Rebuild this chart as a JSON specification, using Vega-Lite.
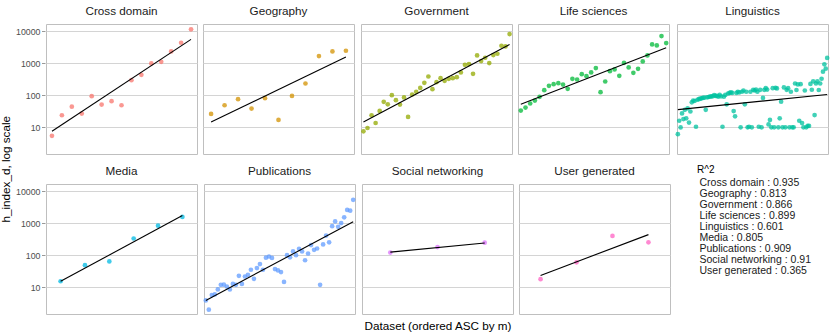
{
  "$schema": "https://vega.github.io/schema/vega-lite/v6.json",
  "padding": {"left": 0, "top": 5, "right": 5, "bottom": 2},
  "title": {"text": "h_index_d, log scale", "orient": "left", "anchor": "middle", "fontSize": 11.7, "fontWeight": "normal", "color": "#000000", "font": "Liberation Sans", "offset": 3},
  "data": {"values": [
    {"c":"Cross domain","i":1,"h":5.4},{"c":"Cross domain","i":2,"h":23.7},{"c":"Cross domain","i":3,"h":44},{"c":"Cross domain","i":4,"h":26.7},{"c":"Cross domain","i":5,"h":93},{"c":"Cross domain","i":6,"h":51},{"c":"Cross domain","i":7,"h":65},{"c":"Cross domain","i":8,"h":48.7},{"c":"Cross domain","i":9,"h":294},{"c":"Cross domain","i":10,"h":431},{"c":"Cross domain","i":11,"h":977},{"c":"Cross domain","i":12,"h":1100},{"c":"Cross domain","i":13,"h":2317},{"c":"Cross domain","i":14,"h":4315},{"c":"Cross domain","i":15,"h":11270},
    {"c":"Cross domain","i":1,"f":7.5},{"c":"Cross domain","i":15,"f":5500},
    {"c":"Geography","i":1,"h":26},{"c":"Geography","i":2,"h":48.7},{"c":"Geography","i":3,"h":75},{"c":"Geography","i":4,"h":38.3},{"c":"Geography","i":5,"h":80.6},{"c":"Geography","i":6,"h":17},{"c":"Geography","i":7,"h":95},{"c":"Geography","i":8,"h":232},{"c":"Geography","i":9,"h":1655},{"c":"Geography","i":10,"h":2317},{"c":"Geography","i":11,"h":2427},
    {"c":"Geography","i":1,"f":14.7},{"c":"Geography","i":11,"f":1540},
    {"c":"Government","i":1,"h":7.5},{"c":"Government","i":2,"h":9.5},{"c":"Government","i":3,"h":23.7},{"c":"Government","i":4,"h":13.6},{"c":"Government","i":5,"h":32.4},{"c":"Government","i":6,"h":62},{"c":"Government","i":7,"h":52},{"c":"Government","i":8,"h":100},{"c":"Government","i":9,"h":70},{"c":"Government","i":10,"h":51},{"c":"Government","i":11,"h":85},{"c":"Government","i":12,"h":21},{"c":"Government","i":13,"h":105},{"c":"Government","i":14,"h":127},{"c":"Government","i":15,"h":169},{"c":"Government","i":16,"h":243},{"c":"Government","i":17,"h":383},{"c":"Government","i":18,"h":154},{"c":"Government","i":19,"h":255},{"c":"Government","i":20,"h":340},{"c":"Government","i":21,"h":280},{"c":"Government","i":22,"h":324},{"c":"Government","i":23,"h":340},{"c":"Government","i":24,"h":365},{"c":"Government","i":25,"h":511},{"c":"Government","i":26,"h":887},{"c":"Government","i":27,"h":931},{"c":"Government","i":28,"h":464},{"c":"Government","i":29,"h":1738},{"c":"Government","i":30,"h":1155},{"c":"Government","i":31,"h":1468},{"c":"Government","i":32,"h":1000},{"c":"Government","i":33,"h":1778},{"c":"Government","i":34,"h":1957},{"c":"Government","i":35,"h":3480},{"c":"Government","i":36,"h":3320},{"c":"Government","i":37,"h":8060},
    {"c":"Government","i":1,"f":14.7},{"c":"Government","i":37,"f":3830},
    {"c":"Life sciences","i":1,"h":33.2},{"c":"Life sciences","i":2,"h":41.2},{"c":"Life sciences","i":3,"h":55},{"c":"Life sciences","i":4,"h":68},{"c":"Life sciences","i":5,"h":89},{"c":"Life sciences","i":6,"h":143},{"c":"Life sciences","i":7,"h":196},{"c":"Life sciences","i":8,"h":221},{"c":"Life sciences","i":9,"h":237},{"c":"Life sciences","i":10,"h":215},{"c":"Life sciences","i":11,"h":158},{"c":"Life sciences","i":12,"h":324},{"c":"Life sciences","i":13,"h":309},{"c":"Life sciences","i":14,"h":453},{"c":"Life sciences","i":15,"h":393},{"c":"Life sciences","i":16,"h":511},{"c":"Life sciences","i":17,"h":698},{"c":"Life sciences","i":18,"h":124},{"c":"Life sciences","i":19,"h":267},{"c":"Life sciences","i":20,"h":562},{"c":"Life sciences","i":21,"h":634},{"c":"Life sciences","i":22,"h":402},{"c":"Life sciences","i":23,"h":1023},{"c":"Life sciences","i":24,"h":733},{"c":"Life sciences","i":25,"h":499},{"c":"Life sciences","i":26,"h":665},{"c":"Life sciences","i":27,"h":1127},{"c":"Life sciences","i":28,"h":1738},{"c":"Life sciences","i":29,"h":3830},{"c":"Life sciences","i":30,"h":3565},{"c":"Life sciences","i":31,"h":6980},{"c":"Life sciences","i":32,"h":4217},
    {"c":"Life sciences","i":1,"f":52},{"c":"Life sciences","i":32,"f":3013},
    {"c":"Linguistics","i":1,"h":6.1},{"c":"Linguistics","i":2,"h":16},{"c":"Linguistics","i":3,"h":9.9},{"c":"Linguistics","i":4,"h":27},{"c":"Linguistics","i":5,"h":18},{"c":"Linguistics","i":6,"h":35},{"c":"Linguistics","i":7,"h":19},{"c":"Linguistics","i":8,"h":39},{"c":"Linguistics","i":9,"h":14},{"c":"Linguistics","i":10,"h":31},
    {"c":"Linguistics","i":11,"h":60},{"c":"Linguistics","i":12,"h":68},{"c":"Linguistics","i":13,"h":66},{"c":"Linguistics","i":14,"h":10.4},{"c":"Linguistics","i":15,"h":72},{"c":"Linguistics","i":16,"h":75},{"c":"Linguistics","i":17,"h":78},{"c":"Linguistics","i":18,"h":80},{"c":"Linguistics","i":19,"h":82},{"c":"Linguistics","i":20,"h":84},
    {"c":"Linguistics","i":21,"h":35},{"c":"Linguistics","i":22,"h":86},{"c":"Linguistics","i":23,"h":88},{"c":"Linguistics","i":24,"h":90},{"c":"Linguistics","i":25,"h":92},{"c":"Linguistics","i":26,"h":92},{"c":"Linguistics","i":27,"h":100},{"c":"Linguistics","i":28,"h":95},{"c":"Linguistics","i":29,"h":95},{"c":"Linguistics","i":30,"h":90},
    {"c":"Linguistics","i":31,"h":102},{"c":"Linguistics","i":32,"h":92},{"c":"Linguistics","i":33,"h":10.4},{"c":"Linguistics","i":34,"h":90},{"c":"Linguistics","i":35,"h":102},{"c":"Linguistics","i":36,"h":52},{"c":"Linguistics","i":37,"h":113},{"c":"Linguistics","i":38,"h":118},{"c":"Linguistics","i":39,"h":122},{"c":"Linguistics","i":40,"h":118},
    {"c":"Linguistics","i":41,"h":32},{"c":"Linguistics","i":42,"h":22},{"c":"Linguistics","i":43,"h":118},{"c":"Linguistics","i":44,"h":128},{"c":"Linguistics","i":45,"h":122},{"c":"Linguistics","i":46,"h":10},{"c":"Linguistics","i":47,"h":128},{"c":"Linguistics","i":48,"h":140},{"c":"Linguistics","i":49,"h":52},{"c":"Linguistics","i":50,"h":128},
    {"c":"Linguistics","i":51,"h":10},{"c":"Linguistics","i":52,"h":10.4},{"c":"Linguistics","i":53,"h":128},{"c":"Linguistics","i":54,"h":10},{"c":"Linguistics","i":55,"h":147},{"c":"Linguistics","i":56,"h":140},{"c":"Linguistics","i":57,"h":150},{"c":"Linguistics","i":58,"h":128},{"c":"Linguistics","i":59,"h":10.4},{"c":"Linguistics","i":60,"h":147},
    {"c":"Linguistics","i":61,"h":10},{"c":"Linguistics","i":62,"h":82},{"c":"Linguistics","i":63,"h":147},{"c":"Linguistics","i":64,"h":166},{"c":"Linguistics","i":65,"h":150},{"c":"Linguistics","i":66,"h":12.3},{"c":"Linguistics","i":67,"h":17},{"c":"Linguistics","i":68,"h":10},{"c":"Linguistics","i":69,"h":166},{"c":"Linguistics","i":70,"h":10},
    {"c":"Linguistics","i":71,"h":170},{"c":"Linguistics","i":72,"h":163},{"c":"Linguistics","i":73,"h":10},{"c":"Linguistics","i":74,"h":19},{"c":"Linguistics","i":75,"h":63},{"c":"Linguistics","i":76,"h":10},{"c":"Linguistics","i":77,"h":175},{"c":"Linguistics","i":78,"h":10},{"c":"Linguistics","i":79,"h":147},{"c":"Linguistics","i":80,"h":166},
    {"c":"Linguistics","i":81,"h":10},{"c":"Linguistics","i":82,"h":128},{"c":"Linguistics","i":83,"h":10},{"c":"Linguistics","i":84,"h":10},{"c":"Linguistics","i":85,"h":232},{"c":"Linguistics","i":86,"h":145},{"c":"Linguistics","i":87,"h":216},{"c":"Linguistics","i":88,"h":16},{"c":"Linguistics","i":89,"h":220},{"c":"Linguistics","i":90,"h":13.5},
    {"c":"Linguistics","i":91,"h":10},{"c":"Linguistics","i":92,"h":140},{"c":"Linguistics","i":93,"h":10},{"c":"Linguistics","i":94,"h":11},{"c":"Linguistics","i":95,"h":11},{"c":"Linguistics","i":96,"h":225},{"c":"Linguistics","i":97,"h":148},{"c":"Linguistics","i":98,"h":270},{"c":"Linguistics","i":99,"h":24},{"c":"Linguistics","i":100,"h":232},
    {"c":"Linguistics","i":101,"h":270},{"c":"Linguistics","i":102,"h":145},{"c":"Linguistics","i":103,"h":232},{"c":"Linguistics","i":104,"h":326},{"c":"Linguistics","i":105,"h":540},{"c":"Linguistics","i":106,"h":918},{"c":"Linguistics","i":107,"h":670},{"c":"Linguistics","i":108,"h":1450},
    {"c":"Linguistics","i":1,"f":35.5},{"c":"Linguistics","i":108,"f":105},
    {"c":"Media","i":1,"h":15.4},{"c":"Media","i":2,"h":49},{"c":"Media","i":3,"h":64},{"c":"Media","i":4,"h":331},{"c":"Media","i":5,"h":830},{"c":"Media","i":6,"h":1556},
    {"c":"Media","i":1,"f":15.4},{"c":"Media","i":6,"f":1714},
    {"c":"Publications","i":1,"h":3.9},{"c":"Publications","i":2,"h":2.0},{"c":"Publications","i":3,"h":5.7},{"c":"Publications","i":4,"h":6.0},{"c":"Publications","i":5,"h":8.6},{"c":"Publications","i":6,"h":11.9},{"c":"Publications","i":7,"h":12.1},{"c":"Publications","i":8,"h":10.5},{"c":"Publications","i":9,"h":8.6},{"c":"Publications","i":10,"h":12.7},
    {"c":"Publications","i":11,"h":11.9},{"c":"Publications","i":12,"h":22.8},{"c":"Publications","i":13,"h":12.7},{"c":"Publications","i":14,"h":21.7},{"c":"Publications","i":15,"h":24.5},{"c":"Publications","i":16,"h":35.2},{"c":"Publications","i":17,"h":18.3},{"c":"Publications","i":18,"h":39.8},{"c":"Publications","i":19,"h":53},{"c":"Publications","i":20,"h":35.2},
    {"c":"Publications","i":21,"h":84},{"c":"Publications","i":22,"h":91},{"c":"Publications","i":23,"h":82},{"c":"Publications","i":24,"h":37},{"c":"Publications","i":25,"h":33.6},{"c":"Publications","i":26,"h":29.8},{"c":"Publications","i":27,"h":14.7},{"c":"Publications","i":28,"h":100},{"c":"Publications","i":29,"h":86},{"c":"Publications","i":30,"h":131},
    {"c":"Publications","i":31,"h":100},{"c":"Publications","i":32,"h":158},{"c":"Publications","i":33,"h":131},{"c":"Publications","i":34,"h":69.5},{"c":"Publications","i":35,"h":113},{"c":"Publications","i":36,"h":207},{"c":"Publications","i":37,"h":147},{"c":"Publications","i":38,"h":162},{"c":"Publications","i":39,"h":11.9},{"c":"Publications","i":40,"h":217},
    {"c":"Publications","i":41,"h":408},{"c":"Publications","i":42,"h":251},{"c":"Publications","i":43,"h":804},{"c":"Publications","i":44,"h":1129},{"c":"Publications","i":45,"h":766},{"c":"Publications","i":46,"h":1000},{"c":"Publications","i":47,"h":1510},{"c":"Publications","i":48,"h":2575},{"c":"Publications","i":49,"h":2450},{"c":"Publications","i":50,"h":5320},
    {"c":"Publications","i":1,"f":3.9},{"c":"Publications","i":50,"f":1102},
    {"c":"Social networking","i":1,"h":121},{"c":"Social networking","i":2,"h":179},{"c":"Social networking","i":3,"h":245},
    {"c":"Social networking","i":1,"f":125},{"c":"Social networking","i":3,"f":240},
    {"c":"User generated","i":1,"h":17.9},{"c":"User generated","i":2,"h":60},{"c":"User generated","i":3,"h":398},{"c":"User generated","i":4,"h":251},
    {"c":"User generated","i":1,"f":23.4},{"c":"User generated","i":4,"f":438}
  ]},
  "facet": {
    "field": "c", "type": "nominal",
    "header": {
      "title": "Dataset (ordered ASC by m)", "titleOrient": "bottom", "titleFontSize": 11.7, "titleFontWeight": "normal", "titleColor": "#000000", "titleFont": "Liberation Sans", "titlePadding": 6,
      "labelFontSize": 11.7, "labelColor": "#1a1a1a", "labelFont": "Liberation Sans", "labelPadding": -5, "labelBaseline": "bottom"
    }
  },
  "columns": 5,
  "spacing": {"row": 10, "column": 4},
  "spec": {
    "width": 151,
    "height": 130,
    "layer": [
      {
        "transform": [{"filter": "isValid(datum.h)"}],
        "mark": {"type": "circle", "size": 22, "opacity": 0.75},
        "encoding": {
          "x": {"field": "i", "type": "ordinal", "scale": {"type": "point", "padding": 0.6}, "axis": null},
          "y": {"field": "h", "type": "quantitative", "scale": {"type": "log", "domain": [1.47, 16560], "nice": false, "zero": false},
                "axis": {"values": [10, 100, 1000, 10000], "format": "d", "title": null, "domain": false, "tickColor": "#999999", "tickSize": 3.5, "labelPadding": 1.5, "labelFontSize": 8.8, "labelColor": "#4d4d4d", "labelFont": "Liberation Sans", "gridColor": "#d4d4d4", "gridWidth": 1}},
          "color": {"field": "c", "type": "nominal",
            "scale": {"domain": ["Cross domain","Geography","Government","Life sciences","Linguistics","Media","Publications","Social networking","User generated"],
                      "range": ["#F8766D","#D39200","#93AA00","#00BA38","#00C19F","#00B9E3","#619CFF","#DB72FB","#FF61C3"]},
            "legend": {"title": "R^2", "orient": "none", "legendX": 651, "legendY": 141,
              "labelExpr": "datum.label + ' : ' + ({'Cross domain':'0.935','Geography':'0.813','Government':'0.866','Life sciences':'0.899','Linguistics':'0.601','Media':'0.805','Publications':'0.909','Social networking':'0.91','User generated':'0.365'})[datum.label]",
              "symbolSize": 0, "symbolOpacity": 0, "symbolStrokeWidth": 0, "labelOffset": -8, "rowPadding": -0.2,
              "titleFontSize": 10, "titleFontWeight": "normal", "titleColor": "#000000", "titleFont": "Liberation Sans", "titlePadding": 3,
              "labelFontSize": 10.5, "labelColor": "#1a1a1a", "labelFont": "Liberation Sans"}}
        }
      },
      {
        "transform": [{"filter": "isValid(datum.f)"}],
        "mark": {"type": "line", "color": "#000000", "strokeWidth": 1.1},
        "encoding": {
          "x": {"field": "i", "type": "ordinal"},
          "y": {"field": "f", "type": "quantitative"}
        }
      }
    ]
  },
  "resolve": {"scale": {"x": "independent"}},
  "config": {
    "font": "Liberation Sans",
    "view": {"stroke": "#bfbfbf", "strokeWidth": 1}
  }
}
